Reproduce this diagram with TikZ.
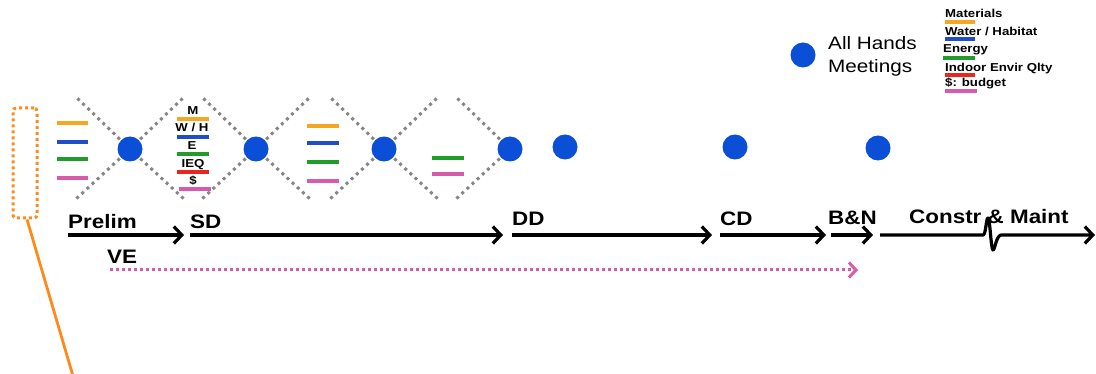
\documentclass[tikz,border=0pt]{standalone}
\usepackage{fontspec}
\setmainfont{Liberation Sans}
\newfontfamily\pf[FakeStretch=1.15]{Liberation Sans}
\usetikzlibrary{arrows.meta}
\definecolor{cOrange}{HTML}{F5A623}
\definecolor{cBlue}{HTML}{1F4FC8}
\definecolor{cGreen}{HTML}{1E9E28}
\definecolor{cRed}{HTML}{E8251E}
\definecolor{cPink}{HTML}{D85AAE}
\definecolor{dotBlue}{HTML}{0B4FD6}
\definecolor{frameOrange}{HTML}{FF8A1C}
\tikzset{
  meet/.style={circle, fill=dotBlue, minimum size=25pt, inner sep=0pt},
  xline/.style={draw=gray!95, line width=3pt, dash pattern=on 3pt off 4pt},
  key/.style={line width=3.2pt},
  phase/.style={font=\pf\bfseries\fontsize{19.5}{20}\selectfont, anchor=base west, inner sep=0pt},
  tick/.style={font=\pf\bfseries\fontsize{11.5}{12}\selectfont, anchor=base, inner sep=0pt},
  legend/.style={font=\pf\bfseries\fontsize{11.5}{12}\selectfont, anchor=base west, inner sep=0pt},
  meetlabel/.style={font=\pf\fontsize{18}{22}\selectfont, anchor=base west, inner sep=0pt},
  flow/.style={line width=3.2pt, -{Straight Barb[length=8pt,width=17pt]}},
  vearrow/.style={draw=cPink, line width=3pt, dash pattern=on 3pt off 3pt,
                  -{Straight Barb[length=7pt,width=15pt]}},
}
\begin{document}
\begin{tikzpicture}[x=1pt,y=-1pt]
\useasboundingbox (0,0) rectangle (1096,374);

% meeting points on the schedule
\coordinate (m1) at (130,149);
\coordinate (m2) at (256,149);
\coordinate (m3) at (384,149);
\coordinate (m4) at (510,149);
\coordinate (m5) at (565,147);
\coordinate (m6) at (735,147);
\coordinate (m7) at (878,148);

% dotted crossing lines through the early meetings
\foreach \m in {m1,m2,m3}{
  \draw[xline] (\m) -- ++(-54,-52);
  \draw[xline] (\m) -- ++(54,-52);
  \draw[xline] (\m) -- ++(-54,50);
  \draw[xline] (\m) -- ++(54,50);
}
\draw[xline] (m4) -- ++(-54,-52);
\draw[xline] (m4) -- ++(-54,50);

% meeting dots
\foreach \m in {m1,m2,m3,m4,m5,m6,m7}{
  \node[meet] (dot\m) at (\m) {};
}

% legend: all hands meetings
\node[meet] (legdot) at (803,55) {};
\node[meetlabel] (legtext1) at (828,50) {All Hands};
\node[meetlabel] (legtext2) at (828,73) {Meetings};

% legend: topic colours
\node[legend] (lgM) at (945,18) {Materials};
\draw[key, cOrange] (945,22) -- (975,22);
\node[legend] (lgW) at (945,36) {Water / Habitat};
\draw[key, cBlue] (945,39) -- (975,39);
\node[legend] (lgE) at (943,53) {Energy};
\draw[key, cGreen] (943,58) -- (975,58);
\node[legend] (lgI) at (945,72) {Indoor Envir Qlty};
\draw[key, cRed] (945,75) -- (975,75);
\node[legend] (lgB) at (945,87) {\$: budget};
\draw[key, cPink] (945,91) -- (977,91);

% topic bars before the first meeting
\draw[key, cOrange] (57,123) -- (88,123);
\draw[key, cBlue]   (57,142) -- (88,142);
\draw[key, cGreen]  (57,159) -- (88,159);
\draw[key, cPink]   (57,178) -- (88,178);

% labelled topic bars between meetings 1 and 2
\node[tick] (tM) at (193,115) {M};
\draw[key, cOrange] (177,119) -- (209,119);
\node[tick] (tW) at (192,132) {W / H};
\draw[key, cBlue] (177,137) -- (209,137);
\node[tick] (tE) at (192,150) {E};
\draw[key, cGreen] (177,154) -- (209,154);
\node[tick] (tI) at (193,168) {IEQ};
\draw[key, cRed] (177,172) -- (209,172);
\node[tick] (tS) at (193,185) {\$};
\draw[key, cPink] (179,189) -- (211,189);

% topic bars between meetings 2 and 3
\draw[key, cOrange] (307,126) -- (339,126);
\draw[key, cBlue]   (307,143) -- (339,143);
\draw[key, cGreen]  (307,162) -- (339,162);
\draw[key, cPink]   (307,181) -- (339,181);

% topic bars between meetings 3 and 4
\draw[key, cGreen] (432,158) -- (464,158);
\draw[key, cPink]  (432,174) -- (464,174);

% probe frame and its leader
\node[draw=frameOrange, line width=3pt, dash pattern=on 3pt off 3pt,
      rounded corners=3pt, minimum width=24pt, minimum height=110pt, inner sep=0pt]
  (probe) at (25,163) {};
\coordinate (probetail) at (73,376);
\draw[frameOrange, line width=2.8pt] ([xshift=2pt]probe.south) -- (probetail);

% phase labels
\node[phase] (pPrelim) at (68,229) {Prelim};
\node[phase] (pSD) at (190,229) {SD};
\node[phase] (pDD) at (512,226) {DD};
\node[phase] (pCD) at (720,226) {CD};
\node[phase] (pBN) at (828,225) {B\&N};
\node[phase] (pCM) at (909,224) {Constr \& Maint};
\node[phase] (pVE) at (107,264) {VE};

% phase arrows
\coordinate (a0) at (68,235);   \coordinate (a1) at (184,235);
\coordinate (b0) at (190,235);  \coordinate (b1) at (503,235);
\coordinate (c0) at (512,235);  \coordinate (c1) at (712,235);
\coordinate (d0) at (720,235);  \coordinate (d1) at (826,235);
\coordinate (e0) at (831,235);  \coordinate (e1) at (873,235);
\coordinate (f0) at (880,235);  \coordinate (f1) at (1095,235);
\draw[flow] (a0) -- (a1);
\draw[flow] (b0) -- (b1);
\draw[flow] (c0) -- (c1);
\draw[flow] (d0) -- (d1);
\draw[flow] (e0) -- (e1);
\draw[flow, line join=round] (f0) -- (983,235)
  .. controls (986,235) and (986,218) .. (988,218)
  .. controls (990,218) and (991,250) .. (993,250)
  .. controls (995,250) and (996,236) .. (1001,235) -- (f1);

% value engineering runs alongside
\coordinate (v0) at (110,270);
\coordinate (v1) at (858,270);
\draw[vearrow] (v0) -- (v1);
\end{tikzpicture}
\end{document}
